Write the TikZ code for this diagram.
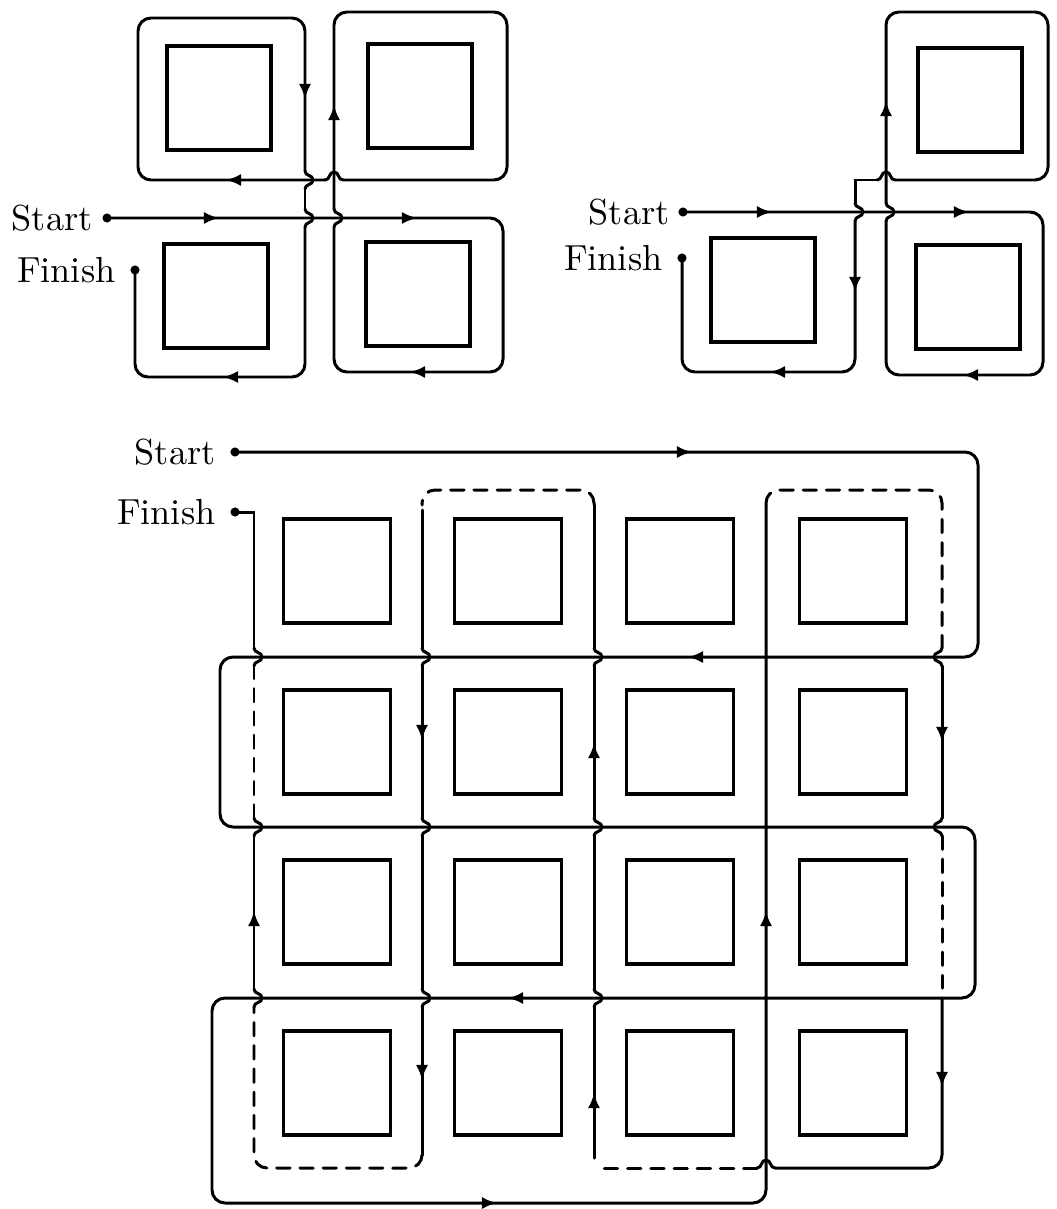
\documentclass[tikz,border=0pt]{standalone}
\usepackage{tikz}
\usetikzlibrary{arrows.meta,positioning}

\begin{document}
\begin{tikzpicture}[
  x=0.01cm, y=-0.01cm,
  font=\fontsize{10.3}{12}\selectfont,
  line width=0.85pt,
  blk/.style={draw, line width=0.95pt, minimum width=1.04cm,
    minimum height=1.04cm, inner sep=0pt},
  gblk/.style={blk, minimum width=1.07cm},
  route/.style={draw, line cap=round, rounded corners=1.3mm},
  gone/.style={route, dash pattern=on 3.8pt off 2.8pt},
  hopline/.style={draw, line cap=round},
  vhop/.style 2 args={insert path={
      .. controls +(0,0.3*#2) and +(0,-0.3*#2) .. ++(#1,0.5*#2)
      .. controls +(0,0.3*#2) and +(0,-0.3*#2) .. ++(-#1,0.5*#2)}},
  hhop/.style 2 args={insert path={
      .. controls +(0.3*#2,0) and +(-0.3*#2,0) .. ++(0.5*#2,#1)
      .. controls +(0.3*#2,0) and +(-0.3*#2,0) .. ++(0.5*#2,-#1)}},
  tip/.style={-{Latex[length=4.3pt,width=3.5pt]}},
  lbl/.style={inner sep=0pt},
  dot/.style={circle, fill, inner sep=0pt, minimum size=2.6pt},
]
  \useasboundingbox (0,0) rectangle (1056,1209);

  % upper left: four blocks
  \node[blk] (a11) at (219,98) {};
  \node[blk] (a12) at (420,96) {};
  \node[blk] (a21) at (216,296) {};
  \node[blk] (a22) at (418,294) {};
  \node[dot] (s1) at (107,218) {};
  \node[dot] (f1) at (135,270) {};
  \node[lbl, left=0.07cm of s1] (s1t) {Start};
  \node[lbl, left=0.12cm of f1] (f1t) {Finish};

  \draw[route] (s1.center) -- (503,218) -- (503,372) -- (334,372) -- (334,227);
  \draw[route] (334,209) -- (334,12) -- (507,12) -- (507,180) -- (343,180);
  \draw[route] (325,180) -- (138,180) -- (138,18) -- (305,18) -- (305,171);
  \draw[route] (305,189) -- (305,209);
  \draw[route] (305,227) -- (305,377) -- (135,377) -- (f1.center);

  % upper right: three blocks
  \node[blk] (b12) at (970,100) {};
  \node[blk] (b21) at (763,290) {};
  \node[blk] (b22) at (968,297) {};
  \node[dot] (s2) at (683,212) {};
  \node[dot] (f2) at (682,258) {};
  \node[lbl, left=0.06cm of s2] (s2t) {Start};
  \node[lbl, left=0.12cm of f2] (f2t) {Finish};

  \draw[route] (s2.center) -- (1043,212) -- (1043,375) -- (886,375) -- (886,221);
  \draw[route] (886,203) -- (886,12) -- (1048,12) -- (1048,180) -- (895,180);
  \draw[hopline] (877,180) -- (855,180) -- (855,203);
  \draw[route] (855,221) -- (855,372) -- (682,372) -- (f2.center);

  % lower grid of blocks
  \foreach \r/\cy in {1/571,2/742,3/912,4/1083}
    \foreach \c/\cx in {1/337,2/508,3/680,4/853}
      \node[gblk] (g\r\c) at (\cx,\cy) {};
  \node[dot] (s3) at (235,452) {};
  \node[dot] (f3) at (235,512) {};
  \node[lbl, left=0.12cm of s3] (s3t) {Start};
  \node[lbl, left=0.12cm of f3] (f3t) {Finish};

  \draw[route] (s3.center) -- (978,452) -- (978,657) -- (220,657) -- (220,827)
    -- (975,827) -- (975,998) -- (212,998) -- (212,1203) -- (766,1203)
    -- (766,505);
  \draw[gone] (766,505) -- (766,490) -- (942,490) -- (942,648);
  \draw[route] (942,666) -- (942,818);
  \draw[gone] (942,836) -- (942,988);
  \draw[route] (942,998) -- (942,1168) -- (775,1168);
  \draw[gone] (757,1168) -- (602,1168);
  \foreach \a/\b in {1158/1007,989/836,818/666,648/505}
    \draw[route] (594,\a) -- (594,\b);
  \draw[gone] (594,505) -- (594,490) -- (422,490) -- (422,505);
  \foreach \a/\b in {510/648,666/818,836/989,1007/1155}
    \draw[route] (422,\a) -- (422,\b);
  \draw[gone] (422,1155) -- (422,1168) -- (254,1168) -- (254,1007);
  \draw[route] (254,989) -- (254,836);
  \draw[gone] (254,818) -- (254,666);
  \draw[hopline] (254,648) -- (254,512) -- (f3.center);

  % crossings
  \foreach \x/\y/\b/\d in {334/227/8/-18, 305/171/8/18, 305/209/8/18,
      886/221/8/-18, 855/203/8/18,
      942/648/-8/18, 942/818/-8/18,
      594/1007/8/-18, 594/836/8/-18, 594/666/8/-18,
      422/648/8/18, 422/818/8/18, 422/989/8/18,
      254/1007/8/-18, 254/836/8/-18, 254/666/8/-18}
    \draw[hopline] (\x,\y) [vhop={\b}{\d}];
  \foreach \x/\y in {343/180, 895/180, 775/1168}
    \draw[hopline] (\x,\y) [hhop={-8}{-18}];

  % direction marks
  \foreach \x/\y/\u/\v in {211/218/1/0, 409/218/1/0, 418/372/-1/0,
      334/113/0/-1, 234/180/-1/0, 305/91/0/1, 231/377/-1/0,
      764/212/1/0, 961/212/1/0, 971/375/-1/0, 886/109/0/-1,
      855/284/0/1, 778/372/-1/0,
      684/452/1/0, 696/657/-1/0, 516/998/-1/0, 489/1203/1/0,
      766/919/0/-1, 942/734/0/1, 942/1079/0/1, 594/1101/0/-1,
      594/751/0/-1, 422/732/0/1, 422/1072/0/1, 254/919/0/-1}
    \draw[tip] (\x,\y) -- ++(8*\u,8*\v);
\end{tikzpicture}
\end{document}
